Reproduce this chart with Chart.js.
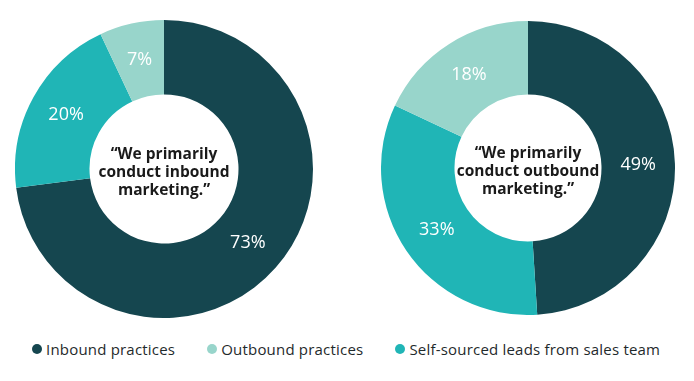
<!DOCTYPE html>
<html>
<head>
<meta charset="utf-8">
<script src="https://cdn.jsdelivr.net/npm/chart.js@4.4.0/dist/chart.umd.min.js"></script>
<style>
  body { margin: 0; background: #fff; width: 694px; height: 381px; position: relative; overflow: hidden; font-family: "Open Sans", sans-serif; }
  #leftChart { position: absolute; left: 15px; top: 20px; }
  #rightChart { position: absolute; left: 381px; top: 21px; }
  .legend { position: absolute; top: 339px; left: 32px; display: flex; font-size: 15px; color: #1f2a2c; letter-spacing: 0.2px; }
  .legend span { display: flex; align-items: center; margin-right: 32px; }
  .legend i { width: 10px; height: 10px; border-radius: 50%; display: inline-block; margin-right: 4px; }
</style>
</head>
<body>
<canvas id="leftChart" width="298" height="298"></canvas>
<canvas id="rightChart" width="294" height="294"></canvas>
<div class="legend" id="legend"></div>

<script>
// legend order
const categories = ["Inbound practices", "Outbound practices", "Self-sourced leads from sales team"];
const colors = ["#15464f", "#98d5cb", "#20b5b6"];

// drawing order clockwise from top: inbound, self-sourced, outbound
const sliceOrder = [0, 2, 1];
const inboundValues = [73, 7, 20];
const outboundValues = [49, 18, 33];

const leftTitle = ["\u201CWe primarily", "conduct inbound", "marketing.\u201D"];
const rightTitle = ["\u201CWe primarily", "conduct outbound", "marketing.\u201D"];

const sliceLabels = {
  id: "sliceLabels",
  afterDatasetsDraw(chart) {
    const ctx = chart.ctx;
    const meta = chart.getDatasetMeta(0);
    ctx.save();
    ctx.fillStyle = "#ffffff";
    ctx.font = "500 18px 'Open Sans'";
    ctx.textAlign = "center";
    ctx.textBaseline = "middle";
    meta.data.forEach((arc, i) => {
      const pos = arc.tooltipPosition();
      ctx.fillText(chart.data.datasets[0].data[i] + "%", pos.x, pos.y);
    });

    const lines = chart.options.plugins.centerText.lines;
    const cx = (chart.chartArea.left + chart.chartArea.right) / 2;
    const cy = (chart.chartArea.top + chart.chartArea.bottom) / 2;
    ctx.fillStyle = "#1a1a1a";
    ctx.font = "bold 15.5px 'Open Sans'";
    lines.forEach((line, i) => {
      ctx.fillText(line, cx, cy + 4 + (i - 1) * 18);
    });
    ctx.restore();
  }
};

function makeChart(id, values, lines) {
  return new Chart(document.getElementById(id), {
    type: "doughnut",
    data: {
      labels: sliceOrder.map(i => categories[i]),
      datasets: [{
        data: sliceOrder.map(i => values[i]),
        backgroundColor: sliceOrder.map(i => colors[i]),
        borderWidth: 0
      }]
    },
    options: {
      responsive: false,
      animation: false,
      cutout: "50%",
      plugins: {
        legend: { display: false },
        tooltip: { enabled: false },
        centerText: { lines: lines }
      }
    },
    plugins: [sliceLabels]
  });
}

makeChart("leftChart", inboundValues, leftTitle);
makeChart("rightChart", outboundValues, rightTitle);

const legendEl = document.getElementById("legend");
categories.forEach((name, i) => {
  const item = document.createElement("span");
  item.innerHTML = `<i style="background:${colors[i]}"></i>${name}`;
  legendEl.appendChild(item);
});
</script>
</body>
</html>
